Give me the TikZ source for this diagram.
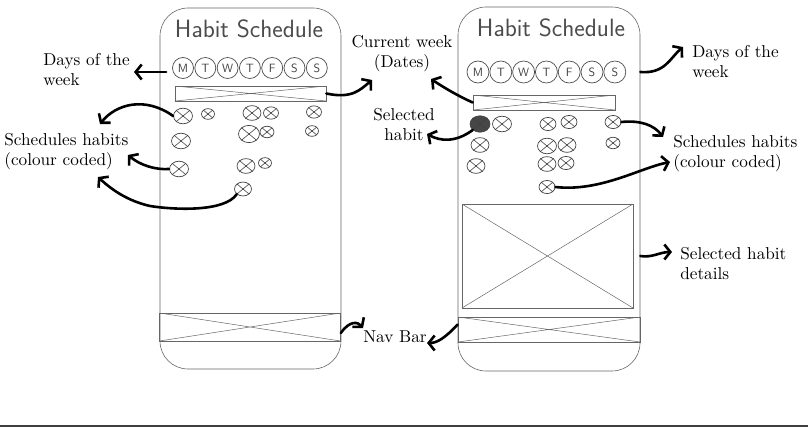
\documentclass[tikz,border=0pt]{standalone}
\usetikzlibrary{arrows.meta,shapes.geometric}
\newcommand\habitmark[4][]{%
  \node[mk,minimum width=#4,minimum height=#4*0.82,#1] (#2) at (#3) {};
  \draw[mkx] (#2.north west) -- (#2.south east) (#2.north east) -- (#2.south west);}
\begin{document}
\begin{tikzpicture}[x=1pt,y=-1pt,
  sketch/.style={draw=black!60,line width=0.6pt},
  phone/.style={sketch,rounded corners=28pt,inner sep=0pt},
  xbox/.style={sketch,inner sep=0pt,path picture={\draw[black!60,line width=0.5pt]
      (path picture bounding box.north west) -- (path picture bounding box.south east)
      (path picture bounding box.south west) -- (path picture bounding box.north east);}},
  day/.style={circle,draw=black!70,line width=0.7pt,minimum size=21pt,inner sep=0pt,
      font=\sffamily\fontsize{12}{12}\selectfont,text=black!75},
  mk/.style={ellipse,draw=black!75,line width=0.7pt,inner sep=0pt},
  mkx/.style={draw=black!75,line width=0.6pt},
  title/.style={font=\sffamily\fontsize{25}{25}\selectfont,text=black!70,inner sep=0pt},
  lbl/.style={inner sep=0pt,align=left,font=\fontsize{10}{11.7}\selectfont,scale=1.72,transform shape},
  lblc/.style={inner sep=0pt,align=center,font=\fontsize{10}{11.7}\selectfont,scale=1.72,transform shape},
  arr/.style={line width=2.6pt,line cap=round,line join=round,
      -{Straight Barb[length=6pt,width=15pt,line width=2.6pt]}},
  baseline/.style={draw=black!75,line width=2pt}]
\useasboundingbox (0,0) rectangle (808,428);

% ---------- Phone A ----------
\node[phone,minimum width=181pt,minimum height=361pt] (pA) at (250.5,188.5) {};
\node[title] (tiA) at (249,29) {Habit Schedule};
\foreach \i/\l [count=\k from 0] in {1/M,2/T,3/W,4/T,5/F,6/S,7/S}
  \node[day] (dA\i) at (183+\k*22.3,68) {\l};
\node[xbox,minimum width=151pt,minimum height=15pt] (wA) at (250.5,93.5) {};
\habitmark{mA1}{183,116}{19pt}
\habitmark{mA2}{208,114}{13pt}
\habitmark{mA3}{252,113}{18pt}
\habitmark{mA4}{271,113}{15pt}
\habitmark{mA5}{314,112}{15pt}
\habitmark{mA6}{181,141}{19pt}
\habitmark{mA7}{249,134}{21pt}
\habitmark{mA8}{267,132}{14pt}
\habitmark{mA9}{312,131}{13pt}
\habitmark{mA10}{179,169}{19pt}
\habitmark{mA11}{246,166}{18pt}
\habitmark{mA12}{265,163}{13pt}
\habitmark{mA13}{243,189}{17pt}
\node[xbox,minimum width=181pt,minimum height=28pt] (nA) at (250,327) {};

% ---------- Phone B ----------
\node[phone,minimum width=182pt,minimum height=364pt] (pB) at (549,189) {};
\node[title] (tiB) at (551,28) {Habit Schedule};
\foreach \i/\l [count=\k from 0] in {1/M,2/T,3/W,4/T,5/F,6/S,7/S}
  \node[day,minimum size=22pt] (dB\i) at (478+\k*22.8,72) {\l};
\node[xbox,minimum width=142pt,minimum height=15pt] (wB) at (544,102.5) {};
\habitmark[fill=black!72]{mB1}{480,124}{20pt}
\habitmark{mB2}{502,124}{19pt}
\habitmark{mB3}{548,124}{16pt}
\habitmark{mB4}{569,122}{16pt}
\habitmark{mB5}{613,122}{16pt}
\habitmark{mB6}{480,145}{18pt}
\habitmark{mB7}{547,146}{19pt}
\habitmark{mB8}{567,145}{18pt}
\habitmark{mB9}{613,143}{14pt}
\habitmark{mB10}{476,166}{18pt}
\habitmark{mB11}{547,164}{18pt}
\habitmark{mB12}{566,163}{16pt}
\habitmark{mB13}{547,187}{16pt}
\node[xbox,minimum width=171pt,minimum height=104pt] (dBox) at (547.5,256) {};
\node[xbox,minimum width=182pt,minimum height=25pt] (nB) at (549,329.5) {};

% ---------- Labels ----------
\node[lbl,anchor=north west] (lDaysA) at (43,53) {Days of the\\week};
\node[lbl,anchor=north west] (lSchA) at (4,133) {Schedules habits\\(colour coded)};
\node[lblc,anchor=north] (lCur) at (402,35) {Current week\\(Dates)};
\node[lblc,anchor=north] (lSel) at (404,108) {Selected\\habit};
\node[lbl,anchor=north west] (lDaysB) at (692,45) {Days of the\\week};
\node[lbl,anchor=north west] (lSchB) at (673,135) {Schedules habits\\(colour coded)};
\node[lbl,anchor=north west] (lDet) at (680,247) {Selected habit\\details};
\node[lbl,anchor=north west] (lNav) at (363,330) {Nav Bar};

% ---------- Arrow tips ----------
\coordinate (tDaysA) at (134,72);
\coordinate (tSchA1) at (100,124);
\coordinate (tSchA2) at (128,155);
\coordinate (tSchA3) at (98,177);
\coordinate (tCurA) at (372,80);
\coordinate (tCurB) at (431,79);
\coordinate (tSel) at (427,134);
\coordinate (tDaysB) at (683,47);
\coordinate (tSchB1) at (663,137);
\coordinate (tSchB2) at (670,162);
\coordinate (tDet) at (672,252);
\coordinate (tNavA) at (363,328);
\coordinate (tNavB) at (427,343);

% ---------- Arrows ----------
\draw[arr] ([shift={(-6,4)}]dA1.west) -- (tDaysA);
\draw[arr] (mA1.west) .. controls (145,96) and (116,104) .. (tSchA1);
\draw[arr] (mA10.west) .. controls (155,170) and (140,165) .. (tSchA2);
\draw[arr] (mA13.south west) .. controls (225,212) and (175,210) .. (150,206)
  .. controls (128,201) and (112,190) .. (tSchA3);
\draw[arr] (wA.east) .. controls (352,99) and (360,90) .. (tCurA);
\draw[arr] (wB.west) .. controls (458,96) and (443,87) .. (tCurB);
\draw[arr] (mB1.south west) .. controls (455,143) and (440,141) .. (tSel);
\draw[arr] (pB.east |- dB7) .. controls (665,74) and (670,58) .. (tDaysB);
\draw[arr] (mB5.east) .. controls (640,120) and (654,125) .. (tSchB1);
\draw[arr] (mB13.east) .. controls (600,192) and (640,168) .. (tSchB2);
\draw[arr] (pB.east |- dBox.east) .. controls (652,258) and (660,252) .. (tDet);
\draw[arr] ([yshift=-6pt]nA.east) .. controls (350,320) and (358,322) .. (tNavA);
\draw[arr] ([yshift=5pt]nB.west) .. controls (445,338) and (437,343) .. (tNavB);

% ---------- bottom rule ----------
\coordinate (bl) at (0,426);
\coordinate (br) at (808,426);
\draw[baseline] (bl) -- (br);
\end{tikzpicture}
\end{document}
